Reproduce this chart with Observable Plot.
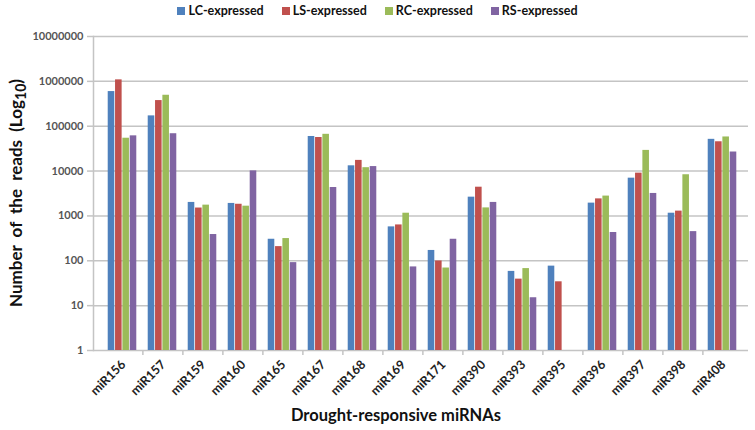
<!DOCTYPE html>
<html>
<head>
<meta charset="utf-8">
<script src="https://cdn.jsdelivr.net/npm/d3@7"></script>
<script src="https://cdn.jsdelivr.net/npm/@observablehq/plot@0.6"></script>
<style>
  html, body { margin: 0; padding: 0; background: #fff; }
  #wrap { position: relative; width: 755px; height: 430px; font-family: Lato, "Open Sans", sans-serif; }
  #wrap svg { position: absolute; left: 0; top: 0; }
  #legend { position: absolute; left: 0; top: 3px; width: 755px; display: flex; justify-content: center; gap: 18px;
            font-weight: bold; font-size: 12.5px; color: #111; }
  .item { display: flex; align-items: center; }
  .sw { width: 8px; height: 8px; margin-right: 3px; }
  #ytitle { position: absolute; left: 17px; top: 193px; transform: translate(-50%, -50%) rotate(-90deg);
            white-space: nowrap; font-weight: bold; font-size: 17px; word-spacing: 4px; color: #111; }
  #xtitle { position: absolute; left: 396px; top: 415px; transform: translate(-50%, -50%);
            white-space: nowrap; font-weight: bold; font-size: 16.5px; color: #111; }
</style>
</head>
<body>
<div id="wrap"></div>
<script>
const categories = ["miR156","miR157","miR159","miR160","miR165","miR167","miR168","miR169","miR171","miR390","miR393","miR395","miR396","miR397","miR398","miR408"];
const series = ["LC-expressed","LS-expressed","RC-expressed","RS-expressed"];
const colors = ["#4F81BD","#C0504D","#9BBB59","#8064A2"];
const LC = [592000, 170000, 2000, 1900, 302, 59000, 13100, 570, 170, 2620, 58, 76, 1930, 6950, 1150, 51000];
const LS = [1080000, 373000, 1500, 1820, 207, 56000, 17300, 630, 99, 4370, 39, 34, 2400, 9000, 1280, 45000];
const RC = [54000, 490000, 1740, 1650, 313, 66000, 11900, 1150, 69, 1510, 67, null, 2770, 28900, 8280, 57600];
const RS = [61000, 68000, 385, 10100, 91, 4300, 12600, 73, 302, 2000, 15, null, 427, 3170, 447, 26600];
const yTicks = [1, 10, 100, 1000, 10000, 100000, 1000000, 10000000];
const yTitle = "Number of the reads (Log<sub>10</sub>)";
const xTitle = "Drought-responsive miRNAs";

const values = [LC, LS, RC, RS];
const rows = [];
series.forEach((s, si) => categories.forEach((c, ci) => {
  const v = values[si][ci];
  if (v != null && v > 0) rows.push({cat: c, series: s, value: v});
}));

const W = 755, H = 430, mL = 93, mR = 7, mT = 36, mB = 80, inset = 3;
const step = (W - mR - mL - inset) / categories.length;
const barW = 7.33;
const grid = "#c4c4c4";

const marks = [
  Plot.gridY(yTicks, {stroke: grid, strokeOpacity: 1, strokeWidth: 1.5}),
  Plot.frame({anchor: "left", stroke: grid, strokeWidth: 1.5}),
  Plot.axisY({ticks: yTicks, tickFormat: d3.format("d"), tickSize: 6, tickPadding: 4, stroke: grid, strokeWidth: 1.5,
              fill: "#555", fontWeight: "bold", fontSize: 11, label: null}),
  Plot.axisX({ticks: categories.slice(0, -1), tickSize: 5, dx: step / 2, tickFormat: () => "", stroke: grid, strokeWidth: 1.5, label: null}),
  Plot.axisX({tickSize: 0, tickPadding: 12, tickRotate: -45, dx: 1, fill: "#222", fontWeight: "bold", fontSize: 12.5, label: null})
];
series.forEach((s, i) => {
  marks.push(Plot.barY(rows.filter(r => r.series === s), {
    x: "cat", y1: 1, y2: "value", fill: colors[i],
    insetLeft: (step - barW) / 2, insetRight: (step - barW) / 2, dx: (i - 1.5) * barW
  }));
});

const chart = Plot.plot({
  width: W, height: H, marginTop: mT, marginBottom: mB, marginLeft: mL, marginRight: mR,
  style: {fontFamily: "Lato, 'Open Sans', sans-serif", background: "transparent", overflow: "visible"},
  x: {domain: categories, padding: 0, insetLeft: inset, axis: null},
  y: {type: "log", domain: [1, 10000000], axis: null},
  marks
});

const wrap = document.getElementById("wrap");
wrap.appendChild(chart);

const legend = document.createElement("div");
legend.id = "legend";
series.forEach((s, i) => {
  const it = document.createElement("div");
  it.className = "item";
  const sw = document.createElement("span");
  sw.className = "sw";
  sw.style.background = colors[i];
  const tx = document.createElement("span");
  tx.textContent = s;
  it.appendChild(sw); it.appendChild(tx);
  legend.appendChild(it);
});
wrap.appendChild(legend);

const yt = document.createElement("div");
yt.id = "ytitle"; yt.innerHTML = yTitle;
wrap.appendChild(yt);
const xt = document.createElement("div");
xt.id = "xtitle"; xt.textContent = xTitle;
wrap.appendChild(xt);
</script>
</body>
</html>
